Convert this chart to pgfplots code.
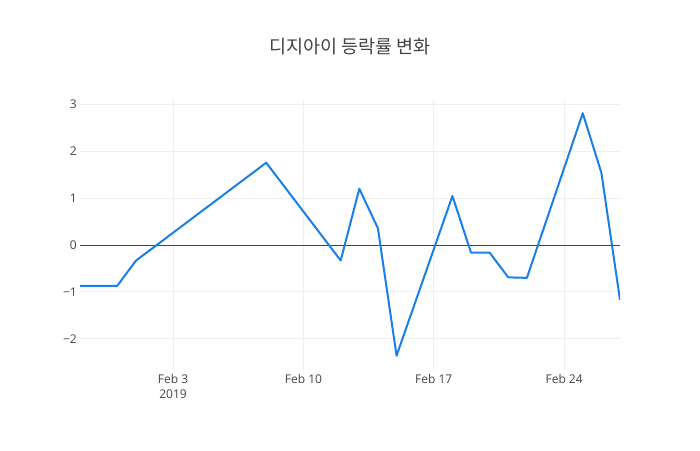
\documentclass[border=0pt]{standalone}
\usepackage{fontspec}
\setmainfont{Open Sans}
\newfontfamily\krfont{Noto Sans CJK KR}
\usepackage{pgfplots}
\pgfplotsset{compat=1.18}
\definecolor{linecol}{HTML}{1A7FE6}
\definecolor{gridcol}{HTML}{EEEEEE}
\definecolor{txtcol}{HTML}{444444}
\begin{document}
\begin{tikzpicture}[x=1pt,y=1pt]
\useasboundingbox (0,0) rectangle (700,450);
\node[text=txtcol, font=\krfont\fontsize{18.5}{22}\selectfont] at (350,403.5) {디지아이 등락률 변화};
\begin{axis}[
  at={(80pt,80pt)}, anchor=south west,
  scale only axis, width=540pt, height=270pt,
  xmin=-5, xmax=24, ymin=-2.665, ymax=3.092,
  axis line style={draw=none},
  major tick length=0pt,
  grid=major,
  grid style={color=gridcol, line width=1pt},
  xtick={0,7,14,21},
  xticklabels={{Feb 3\\2019},{Feb 10},{Feb 17},{Feb 24}},
  ytick={-2,-1,0,1,2,3},
  yticklabels={−2,−1,0,1,2,3},
  tick label style={font=\fontsize{12}{15}\selectfont, text=txtcol},
  xticklabel style={align=center, anchor=north, inner sep=0pt, yshift=-4pt},
  yticklabel style={anchor=east, inner sep=0pt, xshift=-3pt},
  clip=true,
]
\addplot[txtcol, line width=1pt, forget plot] coordinates {(-5,0) (24,0)};
\addplot[linecol, line width=2pt, line join=round, mark=none] coordinates {
  (-5,-0.87) (-4,-0.87) (-3,-0.87) (-2,-0.335) (5,1.755) (9,-0.33)
  (10,1.20) (11,0.355) (12,-2.36) (15,1.045) (16,-0.164) (17,-0.164)
  (18,-0.69) (19,-0.70) (22,2.81) (23,1.54) (24,-1.17)
};
\end{axis}
\end{tikzpicture}
\end{document}
